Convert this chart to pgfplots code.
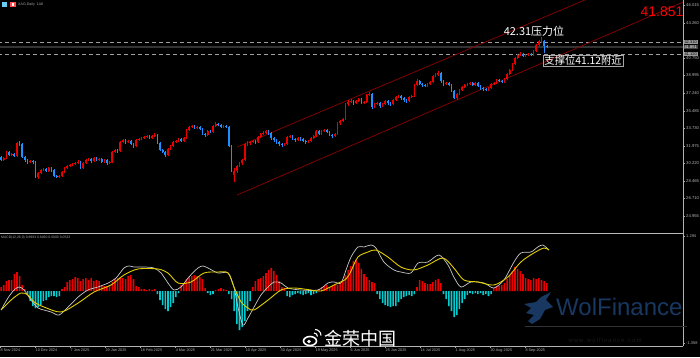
\documentclass[border=0pt]{standalone}
\usepackage{pgfplots}
\pgfplotsset{compat=1.18}
\usepackage{pgfplotstable}
\usepackage{fontspec}
\setmainfont{Liberation Sans}
\newfontfamily\cjk{Noto Sans CJK SC}
\definecolor{upred}{RGB}{235,0,0}
\definecolor{dnblue}{RGB}{30,144,255}
\definecolor{hcyan}{RGB}{0,205,210}
\definecolor{chan}{RGB}{140,0,0}
\definecolor{macdgray}{RGB}{200,200,200}
\definecolor{macdyel}{RGB}{225,205,0}
\definecolor{wolfblue}{RGB}{24,56,98}

\pgfplotstableread{
i o h l c
0 30.85 30.95 30.45 30.55
1 30.55 30.85 30.45 30.75
2 30.75 31.45 30.65 31.35
3 31.35 31.50 30.95 31.05
4 31.05 31.30 30.95 31.15
5 31.15 31.25 30.85 30.95
6 30.95 32.40 30.85 32.25
7 32.25 32.45 32.00 32.15
8 32.15 32.25 30.75 30.85
9 30.85 30.95 30.40 30.55
10 30.55 30.70 30.20 30.35
11 30.35 30.60 30.25 30.45
12 30.45 30.55 30.20 30.35
13 30.35 30.45 28.75 28.85
14 28.85 29.40 28.70 29.25
15 29.25 29.70 29.15 29.55
16 29.55 29.80 29.45 29.65
17 29.65 29.75 29.35 29.45
18 29.45 29.90 29.35 29.75
19 29.75 29.85 29.40 29.55
20 29.55 29.65 28.85 28.95
21 28.95 29.10 28.75 28.85
22 28.85 29.05 28.75 28.95
23 28.95 29.45 28.85 29.35
24 29.35 29.85 29.25 29.75
25 29.75 30.05 29.65 29.95
26 29.95 30.20 29.85 30.05
27 30.05 30.30 29.95 30.15
28 30.15 30.40 30.05 30.25
29 30.25 30.55 30.15 30.35
30 30.35 30.45 29.65 29.75
31 29.75 30.35 29.65 30.25
32 30.25 30.70 30.15 30.55
33 30.55 30.80 30.45 30.65
34 30.65 30.75 30.30 30.45
35 30.45 30.90 30.35 30.75
36 30.75 30.85 30.45 30.55
37 30.55 30.80 30.45 30.65
38 30.65 30.75 30.25 30.35
39 30.35 30.65 30.25 30.55
40 30.55 30.65 30.10 30.25
41 30.25 30.50 30.15 30.35
42 30.35 31.45 30.25 31.35
43 31.35 31.70 31.25 31.55
44 31.55 31.65 31.30 31.45
45 31.45 32.45 31.35 32.35
46 32.35 32.70 32.25 32.55
47 32.55 32.65 32.20 32.35
48 32.35 32.60 32.25 32.45
49 32.45 32.55 32.05 32.15
50 32.15 32.25 31.75 31.95
51 31.95 32.65 31.85 32.55
52 32.55 32.80 32.45 32.65
53 32.65 32.90 32.55 32.75
54 32.75 33.00 32.65 32.85
55 32.85 33.10 32.75 32.95
56 32.95 33.05 32.65 32.75
57 32.75 33.05 32.65 32.95
58 32.95 33.25 32.85 33.05
59 33.05 33.15 32.15 32.25
60 32.25 32.35 31.45 31.55
61 31.55 31.65 31.25 31.35
62 31.35 31.45 30.85 31.05
63 31.05 31.75 30.95 31.65
64 31.65 32.10 31.55 31.95
65 31.95 32.45 31.85 32.35
66 32.35 32.60 32.25 32.45
67 32.45 32.80 32.35 32.65
68 32.65 32.75 32.35 32.45
69 32.45 32.85 32.35 32.75
70 32.75 33.65 32.65 33.55
71 33.55 34.00 33.45 33.85
72 33.85 34.10 33.75 33.95
73 33.95 34.05 33.65 33.75
74 33.75 34.00 33.65 33.85
75 33.85 33.95 33.55 33.65
76 33.65 33.75 33.05 33.15
77 33.15 33.30 32.90 33.05
78 33.05 33.55 32.95 33.45
79 33.45 33.60 33.25 33.35
80 33.35 34.05 33.25 33.95
81 33.95 34.35 33.85 34.15
82 34.15 34.30 33.95 34.05
83 34.05 34.15 33.75 33.85
84 33.85 34.10 33.75 33.95
85 33.95 34.10 33.75 33.85
86 33.85 33.95 31.85 31.95
87 31.95 32.05 29.35 29.55
88 29.05 29.75 28.35 29.45
89 29.45 30.10 29.30 29.95
90 29.95 30.40 29.85 30.25
91 30.25 30.70 30.10 30.55
92 30.55 32.25 30.45 32.15
93 32.15 32.45 32.00 32.25
94 32.25 32.50 32.10 32.35
95 32.35 32.60 32.25 32.45
96 32.45 32.60 32.20 32.35
97 32.35 32.95 32.25 32.85
98 32.85 33.30 32.75 33.15
99 33.15 33.45 33.05 33.25
100 33.25 33.60 33.15 33.45
101 33.45 33.55 33.10 33.25
102 33.25 33.35 32.60 32.75
103 32.75 32.85 32.40 32.55
104 32.55 32.65 32.15 32.35
105 32.35 32.45 31.95 32.15
106 32.15 32.30 31.90 32.05
107 32.05 32.30 31.95 32.15
108 32.15 32.95 32.05 32.85
109 32.85 33.10 32.75 32.95
110 32.95 33.05 32.55 32.65
111 32.65 32.75 32.40 32.55
112 32.55 32.90 32.45 32.75
113 32.75 32.85 32.50 32.65
114 32.65 32.75 32.35 32.45
115 32.45 32.55 32.20 32.35
116 32.35 32.60 32.25 32.45
117 32.45 32.85 32.35 32.75
118 32.75 33.10 32.65 32.95
119 32.95 33.60 32.85 33.45
120 33.45 33.55 33.05 33.15
121 33.15 33.60 33.05 33.45
122 33.45 33.70 33.35 33.55
123 33.55 33.65 33.25 33.35
124 33.35 33.45 32.95 33.05
125 33.05 33.15 32.80 32.95
126 32.95 33.30 32.85 33.15
127 33.15 34.35 33.05 34.25
128 34.25 34.60 34.10 34.45
129 34.45 34.80 34.35 34.65
130 34.65 36.25 34.55 36.15
131 36.15 36.55 36.00 36.35
132 36.35 36.65 36.25 36.45
133 36.45 36.55 36.10 36.25
134 36.25 36.60 36.15 36.45
135 36.45 36.80 36.35 36.65
136 36.65 36.75 36.20 36.35
137 36.35 36.50 36.20 36.40
138 36.40 37.15 36.25 37.05
139 37.05 37.35 36.95 37.15
140 37.15 37.25 35.65 35.85
141 35.85 36.30 35.75 36.15
142 36.15 36.40 36.05 36.25
143 36.25 36.35 35.80 35.95
144 35.95 36.30 35.85 36.15
145 36.15 36.60 36.05 36.45
146 36.45 36.55 36.10 36.25
147 36.25 36.35 36.00 36.15
148 36.15 36.70 36.05 36.55
149 36.55 37.00 36.45 36.85
150 36.85 37.10 36.75 36.95
151 36.95 37.05 36.60 36.75
152 36.75 36.85 36.40 36.55
153 36.55 36.65 36.30 36.45
154 36.45 36.95 36.35 36.85
155 36.85 37.10 36.75 36.95
156 36.95 38.20 36.85 38.05
157 38.05 38.70 37.95 38.45
158 38.45 38.55 38.05 38.15
159 38.15 38.25 37.90 38.05
160 38.05 38.20 37.85 37.95
161 37.95 38.25 37.85 38.15
162 38.15 38.45 38.05 38.35
163 38.35 39.05 38.25 38.95
164 38.95 39.25 38.85 39.05
165 39.05 39.45 38.95 39.25
166 39.25 39.35 38.30 38.45
167 38.45 38.55 38.00 38.15
168 38.15 38.40 38.05 38.25
169 38.25 38.35 37.95 38.05
170 38.05 38.15 37.35 37.45
171 37.45 37.55 36.65 36.75
172 36.75 37.25 36.60 37.15
173 37.15 37.65 37.05 37.55
174 37.55 37.95 37.45 37.85
175 37.85 38.20 37.75 38.05
176 38.05 38.30 37.95 38.15
177 38.15 38.40 38.05 38.25
178 38.25 38.35 37.95 38.05
179 38.05 38.35 37.95 38.25
180 38.25 38.35 37.85 37.95
181 37.95 38.05 37.60 37.75
182 37.75 37.85 37.50 37.65
183 37.65 37.75 37.45 37.55
184 37.55 37.85 37.45 37.75
185 37.75 38.25 37.65 38.15
186 38.15 38.40 38.05 38.25
187 38.25 38.70 38.15 38.55
188 38.55 38.65 38.35 38.45
189 38.45 38.55 38.25 38.35
190 38.35 38.75 38.25 38.65
191 38.65 39.25 38.55 39.15
192 39.15 39.65 39.05 39.55
193 39.55 40.25 39.45 40.15
194 40.15 40.85 40.05 40.75
195 40.75 41.20 40.65 41.05
196 41.05 41.35 40.95 41.15
197 41.15 41.25 40.85 40.95
198 40.95 41.20 40.85 41.05
199 41.05 41.30 40.95 41.15
200 41.15 41.25 40.95 41.05
201 41.05 41.55 40.95 41.45
202 41.45 42.15 41.35 42.05
203 42.05 42.60 41.95 42.45
204 42.45 42.85 42.30 42.55
205 42.45 42.55 41.30 41.95
206 41.95 42.05 41.75 41.85
}\candles

\pgfplotstableread{
i v
0 4
1 6
2 10
3 11
4 11
5 17
6 19
7 15
8 6
9 2
10 -3
11 -10
12 -15
13 -17
14 -16
15 -14
16 -10
17 -9
18 -6
19 -5
20 -5
21 -6
22 -5
23 2
24 4
25 9
26 11
27 12
28 14
29 13
30 10
31 12
32 13
33 11
34 13
35 10
36 11
37 10
38 6
39 5
40 5
41 6
42 9
43 12
44 13
45 14
46 13
47 12
48 15
49 16
50 12
51 5
52 4
53 2
54 2
55 1
56 2
57 1
58 2
59 -3
60 -9
61 -14
62 -18
63 -20
64 -16
65 -12
66 -6
67 -2
68 6
69 8
70 12
71 14
72 15
73 16
74 15
75 14
76 12
77 3
78 -2
79 -4
80 -3
81 1
82 2
83 3
84 2
85 1
86 -3
87 -8
88 -20
89 -33
90 -39
91 -36
92 -30
93 -20
94 -10
95 4
96 10
97 12
98 13
99 15
100 18
101 21
102 23
103 20
104 16
105 10
106 4
107 3
108 -5
109 -6
110 -4
111 -3
112 -2
113 -3
114 -4
115 -3
116 -2
117 -4
118 -3
119 -2
120 2
121 4
122 5
123 6
124 4
125 5
126 7
127 6
128 8
129 10
130 16
131 21
132 25
133 30
134 31
135 28
136 22
137 17
138 14
139 11
140 9
141 8
142 -3
143 -8
144 -12
145 -14
146 -15
147 -16
148 -15
149 -15
150 -11
151 -8
152 -6
153 -5
154 -4
155 -5
156 -3
157 4
158 11
159 10
160 8
161 7
162 7
163 9
164 11
165 12
166 8
167 -3
168 -8
169 -15
170 -20
171 -26
172 -24
173 -18
174 -12
175 -8
176 -4
177 -2
178 -3
179 -2
180 -3
181 -2
182 -4
183 -3
184 -5
185 -3
186 3
187 5
188 5
189 6
190 8
191 12
192 16
193 20
194 24
195 22
196 20
197 17
198 13
199 12
200 11
201 13
202 12
203 13
204 11
205 10
206 8
}\hist

\begin{document}
\begin{tikzpicture}[x=1pt,y=1pt]
\fill[black] (0,0) rectangle (700,357);
\useasboundingbox (0,0) rectangle (700,357);

% ---------- price panel ----------
\begin{axis}[
  at={(0pt,127pt)}, anchor=south west,
  width=683pt, height=230pt, scale only axis,
  xmin=-0.4, xmax=257.4, ymin=23.55, ymax=46.55,
  axis x line=none, axis y line*=right,
  y axis line style={draw=none},
  ytick={24.955,26.710,28.465,30.220,31.975,33.730,35.485,37.240,38.995,40.750,44.260,46.015},
  ytick style={gray!70}, major tick length=2pt, tick align=outside,
  yticklabel style={font=\fontsize{4.2}{5}\selectfont, text=gray!60!white, inner sep=1pt,
    /pgf/number format/.cd, fixed, fixed zerofill, precision=3, assume math mode=true},
  clip=true,
]
\addplot[gray!75, line width=0.6pt, dash pattern=on 4pt off 3pt] coordinates {(-1,42.31) (258,42.31)};
\addplot[gray!40!black, line width=1.4pt] coordinates {(-1,41.851) (258,41.851)};
\addplot[gray!75, line width=0.6pt, dash pattern=on 4pt off 3pt] coordinates {(-1,41.12) (258,41.12)};
\addplot[chan, line width=0.7pt] coordinates {(89.1,31.85) (230,47.63)};
\addplot[chan, line width=0.7pt] coordinates {(89.1,27.05) (257.4,46.34)};
% wicks: from low to high
\addplot[upred, quiver={u=0, v={\thisrow{h}-\thisrow{l}},
    every arrow/.append style={-, line width=0.5pt}}]
  table[x=i, y expr={\thisrow{c}>=\thisrow{o} ? \thisrow{l} : nan}] {\candles};
\addplot[dnblue, quiver={u=0, v={\thisrow{h}-\thisrow{l}},
    every arrow/.append style={-, line width=0.5pt}}]
  table[x=i, y expr={\thisrow{c}<\thisrow{o} ? \thisrow{l} : nan}] {\candles};
% bodies: from open to close
\addplot[upred, quiver={u=0, v={\thisrow{c}-\thisrow{o}},
    every arrow/.append style={-, line width=1.7pt}}]
  table[x=i, y expr={\thisrow{c}>=\thisrow{o} ? \thisrow{o} : nan}] {\candles};
\addplot[dnblue, quiver={u=0, v={\thisrow{c}-\thisrow{o}},
    every arrow/.append style={-, line width=1.7pt}}]
  table[x=i, y expr={\thisrow{c}<\thisrow{o} ? \thisrow{o} : nan}] {\candles};
\end{axis}

% ---------- MACD panel ----------
\begin{axis}[
  at={(0pt,11pt)}, anchor=south west,
  width=683pt, height=112pt, scale only axis,
  xmin=-0.4, xmax=257.4, ymin=-55, ymax=57,
  axis x line*=bottom, axis y line*=right,
  x axis line style={draw=none}, y axis line style={draw=none},
  xtick={-0.4,12.8,26.0,39.2,52.5,65.7,78.9,92.1,105.3,118.5,131.7,144.9,158.1,171.3,184.5,197.7},
  xticklabels={8 Nov 2024,10 Dec 2024,7 Jan 2025,29 Jan 2025,18 Feb 2025,4 Mar 2025,21 Mar 2025,10 Apr 2025,30 Apr 2025,19 May 2025,6 Jun 2025,25 Jun 2025,14 Jul 2025,1 Aug 2025,20 Aug 2025,8 Sep 2025},
  xticklabel style={font=\fontsize{3.8}{4}\selectfont, text=gray!60!white, anchor=north west, inner sep=0.5pt, yshift=-0.5pt},
  ytick={55,-52}, yticklabels={1.294,-1.358},
  yticklabel style={font=\fontsize{4}{5}\selectfont, text=gray!60!white, inner sep=1pt},
  tick style={gray!70}, major tick length=2pt, tick align=outside,
  clip=true,
]
\addplot[ybar, bar width=1.6pt, bar shift=0pt, fill=upred, draw=none]
  table[x=i, y expr={\thisrow{v}>0 ? \thisrow{v} : nan}] {\hist};
\addplot[ybar, bar width=1.6pt, bar shift=0pt, fill=hcyan, draw=none]
  table[x=i, y expr={\thisrow{v}<0 ? \thisrow{v} : nan}] {\hist};
\addplot[macdgray, line width=0.7pt, smooth, tension=0.5] coordinates {
(0,-19) (2.6,-7) (4.9,1) (6.8,4) (8.7,1) (11.3,-9) (14,-17) (16.2,-19) (18.9,-21) (21.9,-24)
(25.3,-16) (29.1,-6) (32.8,1) (36.6,4) (40.4,8) (43.4,13) (46.4,23) (48.3,25) (50.2,24) (54,24)
(57.7,23) (60.4,18) (63,8) (65.3,1) (67.9,4) (70.9,14) (74.3,23) (76.2,25) (78.1,23) (81.9,18)
(85.7,18) (87.9,4) (89.4,-16) (91.3,-34) (93.2,-27) (95.5,-16) (98.1,-4) (100.8,4) (103,9) (105.7,8)
(108.3,3) (113.2,1) (119.6,1) (123.4,8) (125.7,9) (128.3,8) (130.2,21) (132.1,34) (134.7,44) (137,44)
(139.6,46) (141.5,43) (144.5,29) (148.3,21) (150.9,19) (154.7,18) (157.4,28) (161.1,29) (165.3,36) (168.7,26)
(170.9,14) (173.6,4) (177.4,9) (182.3,8) (186,3) (189.8,11) (193.6,29) (196.2,38) (200,39) (202.6,44)
(204.5,46) (206.8,41)};
\addplot[macdyel, line width=0.9pt, smooth, tension=0.5] coordinates {
(0,-19) (3.8,-9) (7.5,-2) (10.2,-4) (12.5,-11) (16.2,-16) (22.6,-21) (29.1,-12) (35.1,-1) (41.5,6)
(46.4,16) (51.7,22) (59.2,22) (63,18) (66.8,8) (71.7,9) (76.6,18) (81.9,19) (85.7,18) (87.9,4)
(90.6,-11) (93.2,-17) (95.5,-19) (100.8,-9) (105.7,1) (110.6,3) (117,1) (120.8,0) (125.7,6) (130.2,12)
(132.1,20) (134.7,34) (138.5,39) (141.5,41) (146,34) (150.9,24) (155.8,21) (161.1,26) (166.8,33) (170.9,23)
(174.7,11) (180,9) (186,6) (191.3,14) (196.2,29) (201.1,38) (204.9,43) (206.8,41)};
\end{axis}

% ---------- frame lines ----------
\draw[gray!55, line width=1.4pt] (0,123.5) -- (683,123.5);
\draw[gray!60, line width=0.6pt] (683,11) -- (683,357);
\draw[gray!60, line width=0.6pt] (0,11) -- (683,11);

% ---------- price boxes on the right scale ----------
\node[fill=gray!80, text=black, font=\fontsize{4}{4}\selectfont, inner sep=0.8pt, anchor=west] at (683.5,315) {42.310};
\node[fill=gray!55!black, text=white, font=\fontsize{4}{4}\selectfont, inner sep=0.8pt, anchor=west] at (683.5,310.2) {41.851};
\node[fill=gray!80, text=black, font=\fontsize{4}{4}\selectfont, inner sep=0.8pt, anchor=west] at (683.5,303) {41.120};

% ---------- annotations ----------
\node[text=red, font=\fontsize{14}{14}\selectfont] at (662,345) {41.851};
\node[text=white, font=\cjk\fontsize{11}{11}\selectfont, inner sep=0pt] at (534,326) {42.31压力位};
\node[draw=gray!70, line width=0.5pt, text=white, font=\cjk\fontsize{10.3}{10.3}\selectfont,
  inner sep=1.2pt, anchor=north west] at (543,302.5) {支撑位41.12附近};

% ---------- header texts ----------
\fill[cyan!60!white] (2,350) rectangle (7,355);
\fill[red!70!white] (10,350) rectangle (16,355);
\fill[white] (12,351) rectangle (14,354);
\node[text=gray!70!white, font=\fontsize{3.6}{4}\selectfont, anchor=west, inner sep=0pt] at (18,352.5) {XAG,Daily \ 1A8};
\node[text=gray!70!white, font=\fontsize{3.4}{4}\selectfont, anchor=west, inner sep=0pt] at (1,119.5) {MACD(12,26,9) 0.8993 0.8460 0.0000 0.0533};

% ---------- watermarks ----------
\fill[wolfblue] (551,65) -- (546,57) -- (553,50) -- (545,47) -- (540,38) -- (532,33) -- (528,36)
  -- (534,42) -- (526,44) -- (531,49) -- (524,53) -- (536,55) -- (541,60) -- cycle;
\node[text=wolfblue, font=\fontsize{24}{24}\selectfont, anchor=base west, inner sep=0pt] at (556,42) {WolFinance};
\draw[gray!40!black, line width=0.5pt] (525,31) -- (687,31);
\node[text=gray!22!black, font=\fontsize{6}{6}\selectfont, inner sep=0pt] at (605,17) {w\,w\,w\,.\,w\,o\,l\,f\,i\,n\,a\,n\,c\,e\,.\,c\,o\,m};
\draw[white, line width=1.6pt] (310,16) ellipse (6.5 and 4.5);
\fill[white] (309,15.5) circle (1.8);
\draw[white, line width=1.1pt] (314,24) arc (90:0:3.5);
\draw[white, line width=1.1pt] (315,27.5) arc (90:0:6);
\node[text=white, font=\cjk\fontsize{18}{18}\selectfont, inner sep=0pt] at (360,18) {金荣中国};
\end{tikzpicture}
\end{document}
